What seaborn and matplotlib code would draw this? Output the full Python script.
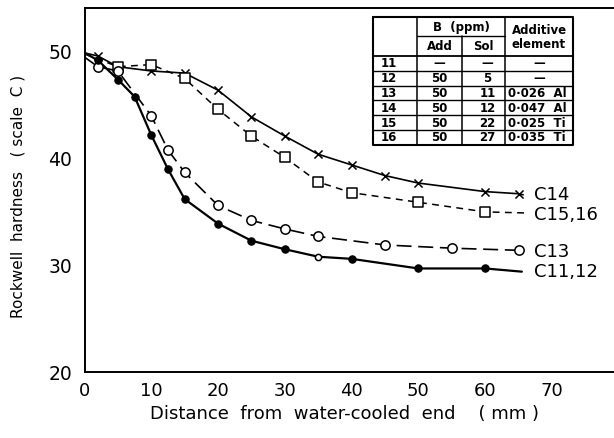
import matplotlib
matplotlib.use("Agg")
import matplotlib.pyplot as plt
import seaborn as sns
import pandas as pd

# ---------------- data ----------------
c14_x = [0, 2, 5, 10, 15, 20, 25, 30, 35, 40, 45, 50, 60, 65, 65.7]
c14_y = [49.9, 49.6, 48.6, 48.2, 48.0, 46.4, 43.9, 42.1, 40.4, 39.4, 38.4, 37.7, 36.9, 36.7, 36.6]
c14_mark = [False] + [True] * 13 + [False]

c1516_x = [0, 5, 10, 15, 20, 25, 30, 35, 40, 50, 60, 66]
c1516_y = [49.8, 48.6, 48.8, 47.5, 44.6, 42.1, 40.1, 37.8, 36.8, 35.9, 35.0, 34.9]
c1516_mark = [False] + [True] * 10 + [False]

c13_x = [0, 2, 5, 10, 12.5, 15, 20, 25, 30, 35, 45, 55, 65]
c13_y = [49.5, 48.6, 48.2, 44.0, 40.8, 38.7, 35.6, 34.2, 33.4, 32.7, 31.9, 31.6, 31.4]
c13_mark = [False] + [True] * 12

c1112_x = [0, 2, 5, 7.5, 10, 12.5, 15, 20, 25, 30, 35, 40, 50, 60, 65.5]
c1112_y = [49.9, 49.2, 47.4, 45.8, 42.2, 39.0, 36.2, 33.9, 32.3, 31.5, 30.8, 30.6, 29.7, 29.7, 29.4]
c1112_mark = [False] + [True] * 13 + [False]
c1112_filled = [True] * 9 + [False] + [True] * 3   # point at 35 mm drawn as small open circle

curve_labels = ["C14", "C15,16", "C13", "C11,12"]
curve_label_y = [36.6, 34.75, 31.2, 29.4]

x_ticks = [0, 10, 20, 30, 40, 50, 60, 70]
y_ticks = [20, 30, 40, 50]

table_rows = ["11", "12", "13", "14", "15", "16"]
table_add = ["—", "50", "50", "50", "50", "50"]
table_sol = ["—", "5", "11", "12", "22", "27"]
table_elem = ["—", "—", "0·026  Al", "0·047  Al", "0·025  Ti", "0·035  Ti"]

# ---------------- figure ----------------
sns.set_theme(style="white")
plt.rcParams["font.family"] = ["DejaVu Sans"]
plt.rcParams["text.color"] = "black"
W, H = 614, 438
fig = plt.figure(figsize=(W / 100, H / 100), dpi=100)

left_px, bottom_px, top_px = 84.5, 372, 8
ax = fig.add_axes([left_px / W, (H - bottom_px) / H, (W - left_px) / W, (bottom_px - top_px) / H])
ax.set_xlim(0, 79.3)
ax.set_ylim(20, 54.1)

black = "black"


def line_and_marks(xs, ys, mark):
    d = pd.DataFrame({"x": xs, "y": ys, "m": mark})
    return d, d[d["m"]].reset_index(drop=True)


# C14: solid, x markers
d, m = line_and_marks(c14_x, c14_y, c14_mark)
sns.lineplot(data=d, x="x", y="y", ax=ax, sort=False, estimator=None, color=black, lw=1.2)
sns.scatterplot(data=m, x="x", y="y", ax=ax, marker="x", s=34, color=black, linewidth=1.1, zorder=5)

# C15,16: short dashes, open squares
d, m = line_and_marks(c1516_x, c1516_y, c1516_mark)
sns.lineplot(data=d, x="x", y="y", ax=ax, sort=False, estimator=None, color=black, lw=1.1,
             linestyle=(0, (4.5, 3.5)))
sns.scatterplot(data=m, x="x", y="y", ax=ax, marker="s", s=42, facecolor="white", edgecolor=black,
                linewidth=1.1, zorder=5)

# C13: long dashes, open circles
d, m = line_and_marks(c13_x, c13_y, c13_mark)
sns.lineplot(data=d, x="x", y="y", ax=ax, sort=False, estimator=None, color=black, lw=1.2,
             linestyle=(0, (9, 4)))
sns.scatterplot(data=m, x="x", y="y", ax=ax, marker="o", s=45, facecolor="white", edgecolor=black,
                linewidth=1.1, zorder=5)

# C11,12: solid heavy, filled dots
d, m = line_and_marks(c1112_x, c1112_y, c1112_mark)
sns.lineplot(data=d, x="x", y="y", ax=ax, sort=False, estimator=None, color=black, lw=1.6)
m["filled"] = c1112_filled
sns.scatterplot(data=m[m["filled"]], x="x", y="y", ax=ax, marker="o", s=28, color=black,
                edgecolor=black, linewidth=0.8, zorder=5)
sns.scatterplot(data=m[~m["filled"]], x="x", y="y", ax=ax, marker="o", s=20, facecolor="white",
                edgecolor=black, linewidth=1.1, zorder=5)

# curve labels
for lab, yy in zip(curve_labels, curve_label_y):
    ax.text(67.3, yy, lab, fontsize=13, va="center", ha="left", color=black)

# axes styling
ax.set_xticks(x_ticks)
ax.set_yticks(y_ticks)
ax.set_xticklabels([str(v) for v in x_ticks], fontsize=13)
ax.set_yticklabels([str(v) for v in y_ticks], fontsize=13.5)
ax.tick_params(direction="in", length=6, width=1.1, color=black, labelcolor=black)
ax.tick_params(axis="x", pad=7)
ax.tick_params(axis="y", pad=9)
for s in ["left", "bottom", "top"]:
    ax.spines[s].set_color(black)
    ax.spines[s].set_linewidth(1.4)
ax.spines["right"].set_visible(False)
ax.set_xlabel("")
ax.set_ylabel("")
ax.grid(False)

fig.text(345 / W, 1 - 414 / H, "Distance  from  water-cooled  end    ( mm )", fontsize=13,
         ha="center", va="center", color=black)
fig.text(18 / W, 1 - 196 / H, "Rockwell  hardness   ( scale  C )", fontsize=11, rotation=90,
         ha="center", va="center", color=black)

# ---------------- inset table (drawn in figure pixel coordinates) ----------------
ov = fig.add_axes([0, 0, 1, 1], facecolor="none")
ov.set_xlim(0, W)
ov.set_ylim(H, 0)
ov.axis("off")

tl, c1, c2, c3, tr = 373, 417, 462, 505, 573
ttop, hmid, hbot = 17, 36, 56
rh = 14.8
tbot = hbot + rh * len(table_rows)
ov.fill_between([tl, tr], ttop, tbot, color="white", zorder=1)
ov.plot([tl, tr, tr, tl, tl], [ttop, ttop, tbot, tbot, ttop], color=black, lw=1.5, zorder=3)
for cx in [c1, c2, c3]:
    ov.plot([cx, cx], [ttop if cx != c2 else hmid, tbot], color=black, lw=1.1, zorder=3)
ov.plot([c1, c3], [hmid, hmid], color=black, lw=1.0, zorder=3)
ov.plot([tl, tr], [hbot, hbot], color=black, lw=1.3, zorder=3)
for i in range(1, len(table_rows)):
    yy = hbot + rh * i
    ov.plot([tl, tr], [yy, yy], color=black, lw=1.0, zorder=3)

fs = 8.5
ov.text((c1 + c3) / 2, (ttop + hmid) / 2 + 1, "B  (ppm)", fontsize=fs, ha="center", va="center",
        fontweight="bold", zorder=4, color=black)
ov.text((c1 + c2) / 2, (hmid + hbot) / 2 + 1, "Add", fontsize=fs, ha="center", va="center",
        fontweight="bold", zorder=4, color=black)
ov.text((c2 + c3) / 2, (hmid + hbot) / 2 + 1, "Sol", fontsize=fs, ha="center", va="center",
        fontweight="bold", zorder=4, color=black)
ov.text((c3 + tr) / 2, (ttop + hbot) / 2 + 1, "Additive\nelement", fontsize=fs, ha="center",
        va="center", fontweight="bold", linespacing=1.0, zorder=4, color=black)
for i, (r, a, s_, e) in enumerate(zip(table_rows, table_add, table_sol, table_elem)):
    yy = hbot + rh * (i + 0.5) + 0.5
    kw = dict(fontsize=fs, va="center", fontweight="bold", zorder=4, color=black)
    ov.text(tl + 8, yy, r, ha="left", **kw)
    ov.text((c1 + c2) / 2, yy, a, ha="center", **kw)
    ov.text((c2 + c3) / 2 + 4, yy, s_, ha="center", **kw)
    if e == "—":
        ov.text((c3 + tr) / 2, yy, e, ha="center", **kw)
    else:
        ov.text(c3 + 3, yy, e, ha="left", **kw)

fig.savefig("out.png", dpi=100)
